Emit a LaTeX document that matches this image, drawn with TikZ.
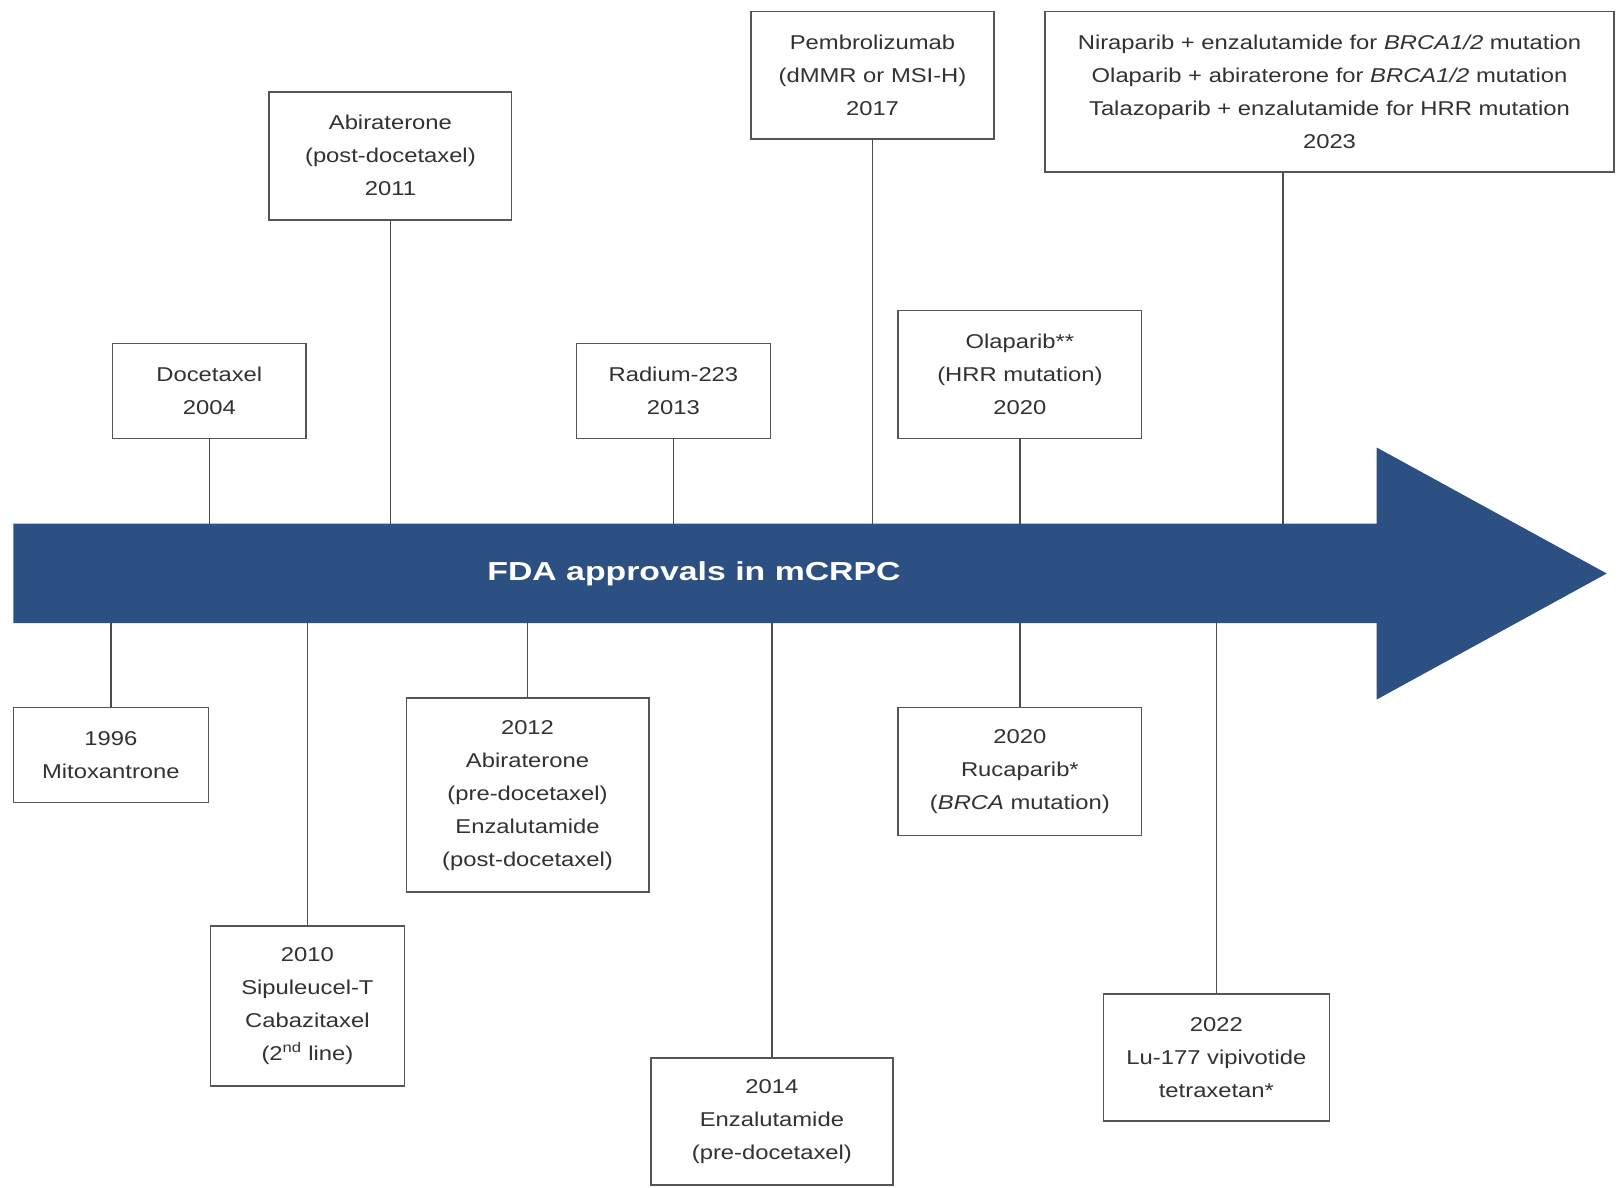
\documentclass[tikz,border=0pt]{standalone}
\usepackage{fontspec}
\setmainfont[FakeStretch=1.19]{Liberation Sans}
\newfontfamily\titlefont[FakeStretch=1.3]{Liberation Sans}
\usetikzlibrary{calc}
\definecolor{arrowblue}{RGB}{45,80,130}
\definecolor{txtgray}{RGB}{50,50,50}
\definecolor{boxgray}{RGB}{85,85,85}
\begin{document}
\begin{tikzpicture}[x=1pt,y=-1pt,
  evbox/.style={draw=boxgray,line width=1.6pt,fill=white,inner sep=0pt,align=center,
    text=txtgray,font=\fontsize{20}{33}\selectfont},
  conn/.style={draw=boxgray!90!black,line width=1.2pt}]
\fill[white] (0,0) rectangle (1617,1187);
\useasboundingbox (0,0) rectangle (1617,1187);
% arrow
\fill[arrowblue] (13.4,523.5) -- (1376.7,523.5) -- (1376.7,447.5) -- (1606.7,573.5)
  -- (1376.7,699.5) -- (1376.7,623) -- (13.4,623) -- cycle;
\node[text=white,font=\titlefont\fontsize{26}{30}\selectfont\bfseries] (title) at (694,574) {FDA approvals in mCRPC};
\coordinate (atop) at (0,523.5);
\coordinate (abot) at (0,623);
% top boxes
\node[evbox,minimum width=193.9pt,minimum height=94.9pt] (doc) at (209.3,390.9) {Docetaxel\\2004};
\node[evbox,minimum width=242.3pt,minimum height=127.9pt] (abi11) at (390.4,155.8) {Abiraterone\\(post-docetaxel)\\2011};
\node[evbox,minimum width=193.8pt,minimum height=94.9pt] (rad) at (673.4,390.9) {Radium-223\\2013};
\node[evbox,minimum width=243.3pt,minimum height=127.9pt] (pem) at (872.5,75.3) {Pembrolizumab\\(dMMR or MSI-H)\\2017};
\node[evbox,minimum width=243.4pt,minimum height=127.9pt] (ola) at (1019.9,374.4) {Olaparib**\\(HRR mutation)\\2020};
\node[evbox,minimum width=569.5pt,minimum height=160.9pt] (parp) at (1329.5,91.8) {Niraparib + enzalutamide for \textit{BRCA1/2} mutation\\Olaparib + abiraterone for \textit{BRCA1/2} mutation\\Talazoparib + enzalutamide for HRR mutation\\2023};
% bottom boxes
\node[evbox,minimum width=194.9pt,minimum height=94.9pt] (mito) at (110.9,754.9) {1996\\Mitoxantrone};
\node[evbox,minimum width=193.9pt,minimum height=159.9pt] (sip) at (307.4,1006) {2010\\Sipuleucel-T\\Cabazitaxel\\(2\textsuperscript{nd} line)};
\node[evbox,minimum width=242.4pt,minimum height=193.8pt] (abi12) at (527.5,795.1) {2012\\Abiraterone\\(pre-docetaxel)\\Enzalutamide\\(post-docetaxel)};
\node[evbox,minimum width=242.4pt,minimum height=127pt] (enz) at (771.9,1121.5) {2014\\Enzalutamide\\(pre-docetaxel)};
\node[evbox,minimum width=243.4pt,minimum height=127.9pt] (ruc) at (1019.9,771.4) {2020\\Rucaparib*\\(\textit{BRCA} mutation)};
\node[evbox,minimum width=225.9pt,minimum height=126.9pt] (lu) at (1216.4,1057.6) {2022\\Lu-177 vipivotide\\tetraxetan*};
% connectors
\coordinate (cparp) at (1283,523.5);
\draw[conn] (doc.south) -- (doc.south |- atop);
\draw[conn] (abi11.south) -- (abi11.south |- atop);
\draw[conn] (rad.south) -- (rad.south |- atop);
\draw[conn] (pem.south) -- (pem.south |- atop);
\draw[conn] (ola.south) -- (ola.south |- atop);
\draw[conn] (parp.south -| cparp) -- (cparp);
\draw[conn] (mito.north) -- (mito.north |- abot);
\draw[conn] (sip.north) -- (sip.north |- abot);
\draw[conn] (abi12.north) -- (abi12.north |- abot);
\draw[conn] (enz.north) -- (enz.north |- abot);
\draw[conn] (ruc.north) -- (ruc.north |- abot);
\draw[conn] (lu.north) -- (lu.north |- abot);
\end{tikzpicture}
\end{document}
